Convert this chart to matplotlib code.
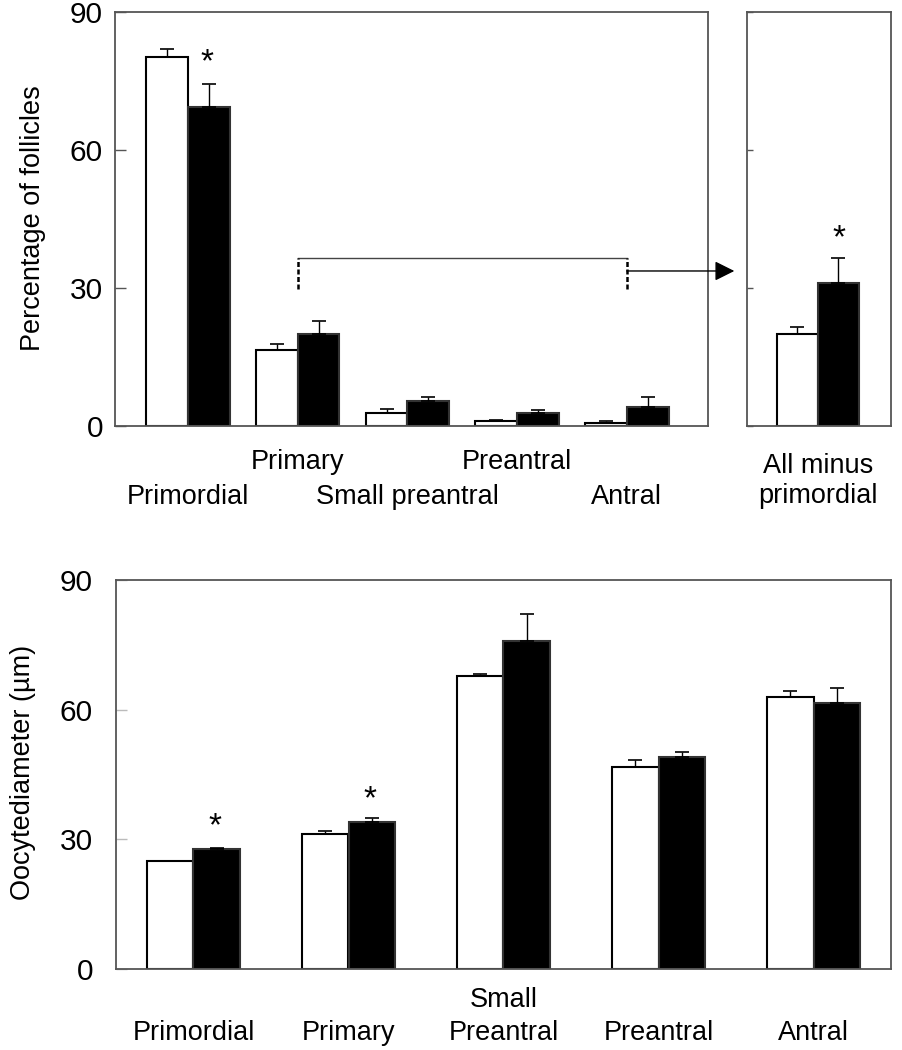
import matplotlib.pyplot as plt
import numpy as np

plt.rcParams['font.family'] = ['Liberation Sans', 'DejaVu Sans']

# top panel: percentage of follicles per stage
stages_top = ['Primordial', 'Primary', 'Small preantral', 'Preantral', 'Antral']
ctrl_pct = [80.2, 16.5, 2.9, 1.0, 0.7]
ctrl_pct_err = [1.8, 1.3, 0.7, 0.4, 0.4]
trt_pct = [69.3, 20.0, 5.5, 2.9, 4.2]
trt_pct_err = [5.0, 2.8, 0.7, 0.6, 2.0]

# right panel: all minus primordial
ctrl_rest = 20.1
ctrl_rest_err = 1.5
trt_rest = 31.1
trt_rest_err = 5.4

# bottom panel: oocyte diameter
stages_bot = ['Primordial', 'Primary', 'Small\nPreantral', 'Preantral', 'Antral']
ctrl_diam = [24.9, 31.3, 67.7, 46.8, 62.9]
ctrl_diam_err = [0.2, 0.7, 0.6, 1.6, 1.4]
trt_diam = [27.8, 34.1, 75.8, 49.1, 61.6]
trt_diam_err = [0.3, 0.8, 6.4, 1.1, 3.5]

yticks = [0, 30, 60, 90]
spine_col = '#555555'
fs = 19.5
tfs = 21.5

fig = plt.figure(figsize=(9.03, 10.5), dpi=100)
W, H = 903, 1050


def px_axes(l, t, r, b):
    return fig.add_axes([l / W, 1 - b / H, (r - l) / W, (b - t) / H])


def style(ax):
    for s in ax.spines.values():
        s.set_color(spine_col)
        s.set_linewidth(1.3)
    ax.set_ylim(0, 90)
    ax.set_yticks(yticks)
    ax.set_xticks([])


def bars(ax, x, ctrl, ce, trt, te, w):
    x = np.asarray(x, dtype=float)
    ekw = dict(elinewidth=1, capthick=1.2, ecolor='black')
    ax.bar(x - w / 2, ctrl, w, color='white', edgecolor='black', linewidth=1.5,
           yerr=[np.zeros_like(np.atleast_1d(ce)), ce], capsize=5, error_kw=ekw)
    ax.bar(x + w / 2, trt, w, color='black', edgecolor='#333333', linewidth=1.5,
           yerr=[np.zeros_like(np.atleast_1d(te)), te], capsize=5, error_kw=ekw)


# ---- top main panel
ax1 = px_axes(115, 12, 708, 426)
style(ax1)
x1 = np.arange(5)
bw1 = 0.38
bars(ax1, x1, ctrl_pct, ctrl_pct_err, trt_pct, trt_pct_err, bw1)
ax1.set_xlim(-0.665, 4.74)
ax1.tick_params(axis='y', direction='in', length=8, width=1, color=spine_col,
                labelsize=tfs, pad=8.6)
ax1.text(0.17, 79.0, '*', fontsize=24, ha='center', va='center')

# staggered category labels
lab_y = [-15.4, -7.8, -15.4, -7.8, -15.4]
for xi, lab, ly in zip(x1, stages_top, lab_y):
    ax1.text(xi, ly, lab, ha='center', va='center', fontsize=fs, clip_on=False)

# bracket + arrow
ax1.plot([1, 4], [36.5, 36.5], color='#444444', lw=1)
for xb in [1, 4]:
    ax1.plot([xb, xb], [29.8, 36.5], color='black', lw=1.8, ls=(0, (2, 1)))
ax1.annotate('', xy=(4.98, 33.7), xytext=(4, 33.7), annotation_clip=False,
             arrowprops=dict(arrowstyle='-|>', mutation_scale=30, color='black',
                             lw=1, shrinkA=0, shrinkB=0))

# ---- top right panel
ax2 = px_axes(747, 12, 891, 426)
style(ax2)
bars(ax2, [0], [ctrl_rest], [ctrl_rest_err], [trt_rest], [trt_rest_err], 1.0)
ax2.set_xlim(-1.73, 1.78)
ax2.tick_params(axis='y', direction='in', length=4, width=1, color=spine_col,
                labelleft=False)
ax2.text(0.5, 40.6, '*', fontsize=24, ha='center', va='center')
ax2.text(0, -11.9, 'All minus\nprimordial', ha='center', va='center',
         fontsize=fs, clip_on=False, linespacing=1.2)

fig.text(33 / W, 1 - 218 / H, 'Percentage of follicles', rotation=90,
         ha='center', va='center', fontsize=fs)

# ---- bottom panel
ax3 = px_axes(116, 580, 891, 969)
style(ax3)
x3 = np.arange(5)
bw3 = 0.297
bars(ax3, x3, ctrl_diam, ctrl_diam_err, trt_diam, trt_diam_err, bw3)
ax3.set_xlim(-0.5, 4.5)
ax3.tick_params(axis='y', direction='in', length=8, width=1, color='#bbbbbb',
                labelsize=tfs, pad=16.5)
for xi in [0, 1]:
    ax3.text(xi + 0.14, trt_diam[xi] + 5, '*', fontsize=24,
             ha='center', va='center')
for xi, lab in zip(x3, stages_bot):
    if '\n' in lab:
        top, bot = lab.split('\n')
        ax3.text(xi, -7.1, top, ha='center', va='center', fontsize=fs, clip_on=False)
        ax3.text(xi, -14.8, bot, ha='center', va='center', fontsize=fs, clip_on=False)
    else:
        ax3.text(xi, -14.8, lab, ha='center', va='center', fontsize=fs, clip_on=False)

fig.text(23 / W, 1 - 772 / H, 'Oocytediameter (µm)', rotation=90,
         ha='center', va='center', fontsize=fs)

fig.savefig('out.png', dpi=100)
